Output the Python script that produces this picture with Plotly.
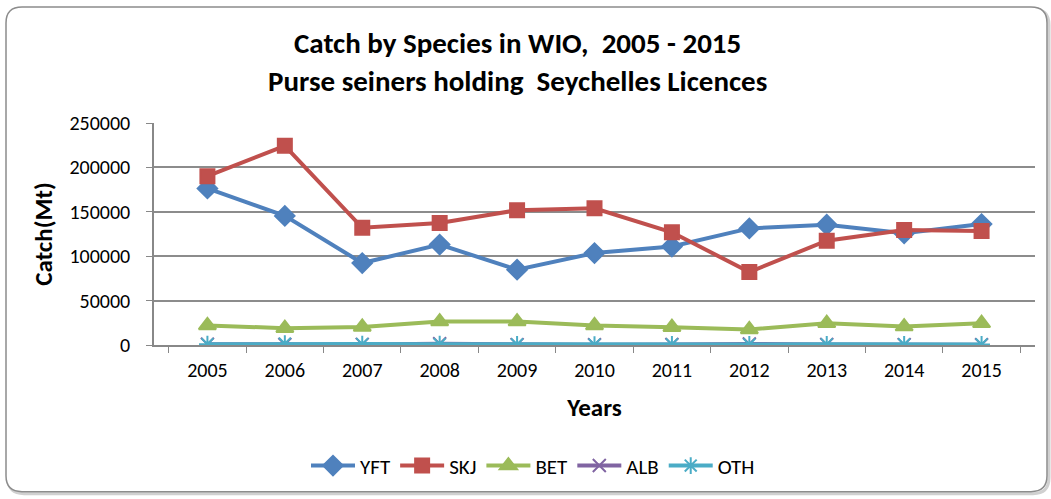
import plotly.graph_objects as go

years = ["2005", "2006", "2007", "2008", "2009", "2010", "2011", "2012", "2013", "2014", "2015"]
yft = [176300, 145400, 92300, 113100, 84800, 103500, 110900, 131300, 135400, 125800, 136200]
skj = [190100, 224300, 132000, 137300, 151800, 154000, 126900, 82200, 117500, 129500, 128300]
bet = [22000, 19000, 20400, 26400, 26400, 22000, 20100, 17500, 24500, 20800, 24500]
alb = [800, 600, 700, 1500, 400, 300, 600, 1200, 500, 400, 300]
oth = [900, 1500, 1000, 900, 600, 500, 700, 600, 800, 700, 600]
title_lines = ["Catch by Species in WIO,  2005 - 2015", "Purse seiners holding  Seychelles Licences"]

series = [
    ("YFT", yft, "#4F81BD", "diamond", 15),
    ("SKJ", skj, "#C0504D", "square", 14),
    ("BET", bet, "#9BBB59", "triangle-up", 15),
    ("ALB", alb, "#8064A2", "x-thin-open", 13),
    ("OTH", oth, "#4BACC6", "asterisk-open", 14),
]

FONT = "Carlito, Calibri, Liberation Sans Narrow, Noto Sans, sans-serif"

fig = go.Figure()
for name, vals, col, sym, sz in series:
    fig.add_trace(go.Scatter(
        x=years, y=vals, name=name, mode="lines+markers",
        line=dict(color=col, width=4),
        marker=dict(symbol=sym, size=sz, color=col, line=dict(color=col, width=2)),
    ))

L, R, T, B = 154, 16, 123, 152
W, H = 1051, 499
pw, ph = W - L - R, H - T - B

def px(x):
    return (x - L) / pw

def py(y):
    return (H - B - y) / ph

def rounded(x0, y0, x1, y1, rr):
    return (f"M {px(x0+rr)},{py(y0)} L {px(x1-rr)},{py(y0)} "
            f"Q {px(x1)},{py(y0)} {px(x1)},{py(y0+rr)} "
            f"L {px(x1)},{py(y1-rr)} Q {px(x1)},{py(y1)} {px(x1-rr)},{py(y1)} "
            f"L {px(x0+rr)},{py(y1)} Q {px(x0)},{py(y1)} {px(x0)},{py(y1-rr)} "
            f"L {px(x0)},{py(y0+rr)} Q {px(x0)},{py(y0)} {px(x0+rr)},{py(y0)} Z")

shapes = [
    dict(type="path", path=rounded(8, 8, 1049, 497, 16), xref="paper", yref="paper",
         line=dict(color="#d0d0d0", width=3), fillcolor="rgba(0,0,0,0)", layer="below"),
    dict(type="path", path=rounded(6, 6, 1047, 495, 16), xref="paper", yref="paper",
         line=dict(color="#8c8c8c", width=1.5), fillcolor="white", layer="below"),
]

annotations = [
    dict(text="<b>" + "<br>".join(title_lines) + "</b>", x=px(517), y=py(61),
         xref="paper", yref="paper", xanchor="center", yanchor="middle",
         showarrow=False, align="center",
         font=dict(family=FONT, size=29, color="black")),
]

fig.update_layout(
    width=W, height=H,
    margin=dict(l=L, r=R, t=T, b=B),
    paper_bgcolor="white", plot_bgcolor="rgba(0,0,0,0)",
    font=dict(family=FONT, size=20, color="black"),
    xaxis=dict(
        type="category", tickson="boundaries", ticks="outside", ticklen=6,
        tickcolor="#888888", showline=True, linecolor="#888888", linewidth=1.5,
        showgrid=False, tickfont=dict(size=20), automargin=False,
        ticklabelstandoff=6,
        title=dict(text="<b>Years</b>", font=dict(size=25), standoff=18),
    ),
    yaxis=dict(
        range=[0, 250000], tickvals=[0, 50000, 100000, 150000, 200000, 250000],
        ticktext=["0", "50000", "100000", "150000", "200000", "250000"],
        ticks="outside", ticklen=6, tickcolor="#888888",
        showline=True, linecolor="#888888", linewidth=1.5,
        showgrid=True, gridcolor="#8c8c8c", gridwidth=1.5, zeroline=False,
        tickfont=dict(size=20), automargin=False, ticklabelstandoff=12,
        title=dict(text="<b>Catch(Mt)</b>", font=dict(size=25), standoff=10),
    ),
    legend=dict(
        orientation="h", x=px(533), xanchor="center", y=py(469), yanchor="middle",
        font=dict(size=21), itemwidth=44, tracegroupgap=0, bgcolor="rgba(0,0,0,0)",
    ),
    shapes=shapes,
    annotations=annotations,
)

fig.write_html("out.html", config={"displayModeBar": False},
               post_script="document.body.style.margin='0px';")
